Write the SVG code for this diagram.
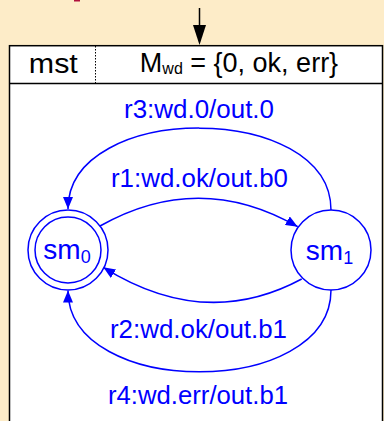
<svg xmlns="http://www.w3.org/2000/svg" width="384" height="421" viewBox="0 0 384 421">
<style>
.lbl{font-family:"Liberation Sans",Arial,sans-serif;font-size:25px;fill:#0000ff;text-anchor:middle}
.hdr{font-family:"Liberation Sans",Arial,sans-serif;font-size:27px;fill:#000;text-anchor:middle}
.st{font-family:"Liberation Sans",Arial,sans-serif;font-size:28px;fill:#0000ff;text-anchor:middle}
.edge{fill:none;stroke:#0000ff;stroke-width:1.5}
.circ{fill:#fff;stroke:#0000ff;stroke-width:1.5}
</style>
<defs>
<marker id="ah" viewBox="0 0 12 10" refX="12" refY="5" markerWidth="12" markerHeight="10" markerUnits="userSpaceOnUse" orient="auto">
<path d="M0,0 L12,5 L0,10 z" fill="#0000ff"/>
</marker>
</defs>
<rect x="0" y="0" width="384" height="421" fill="#fdecc8"/>
<rect x="74" y="0" width="6" height="1.5" fill="#b0103c"/>
<g id="entry">
<line x1="199.5" y1="8" x2="199.5" y2="26" stroke="#000" stroke-width="1.5"/>
<polygon points="193,25 206,25 199.5,45" fill="#000"/>
</g>
<g id="machine">
<rect x="9.5" y="45.7" width="373" height="400" fill="#fff" stroke="#000" stroke-width="1.5"/>
<line x1="9.5" y1="83.5" x2="382.5" y2="83.5" stroke="#000" stroke-width="1.5"/>
<line x1="95.5" y1="46" x2="95.5" y2="83" stroke="#000" stroke-width="1" stroke-dasharray="1.5,1.5"/>
<text class="hdr" x="53.3" y="73.3" textLength="49" lengthAdjust="spacingAndGlyphs">mst</text>
<text class="hdr" x="239" y="72.3" font-size="24">M<tspan font-size="16" dy="2">wd</tspan><tspan dy="-2"> = {0, ok, err}</tspan></text>
</g>
<g id="connectors">
<path class="edge" d="M100,226 Q199,170 297.7,226.7" marker-end="url(#ah)"/>
<path class="edge" d="M301.7,279 Q205,331 103.3,267.3" marker-end="url(#ah)"/>
<path class="edge" d="M331,210 C331,101 68,101 68,209" marker-end="url(#ah)"/>
<path class="edge" d="M331,290 C331,399 68,399 68,290.5" marker-end="url(#ah)"/>
<text class="lbl" x="199" y="117.7" textLength="150" lengthAdjust="spacingAndGlyphs">r3:wd.0/out.0</text>
<text class="lbl" x="199.5" y="187.3" textLength="177" lengthAdjust="spacingAndGlyphs">r1:wd.ok/out.b0</text>
<text class="lbl" x="198.5" y="337.7" textLength="177" lengthAdjust="spacingAndGlyphs">r2:wd.ok/out.b1</text>
<text class="lbl" x="198" y="404.3" textLength="180" lengthAdjust="spacingAndGlyphs">r4:wd.err/out.b1</text>
</g>
<g id="sm0">
<circle class="circ" cx="68" cy="250" r="40"/>
<circle class="circ" cx="68" cy="250" r="33"/>
<text class="st" x="67" y="259.3">sm<tspan font-size="18" dy="4">0</tspan></text>
</g>
<g id="sm1">
<circle class="circ" cx="331" cy="250" r="40"/>
<text class="st" x="329.5" y="259.5">sm<tspan font-size="18" dy="4">1</tspan></text>
</g>
</svg>
